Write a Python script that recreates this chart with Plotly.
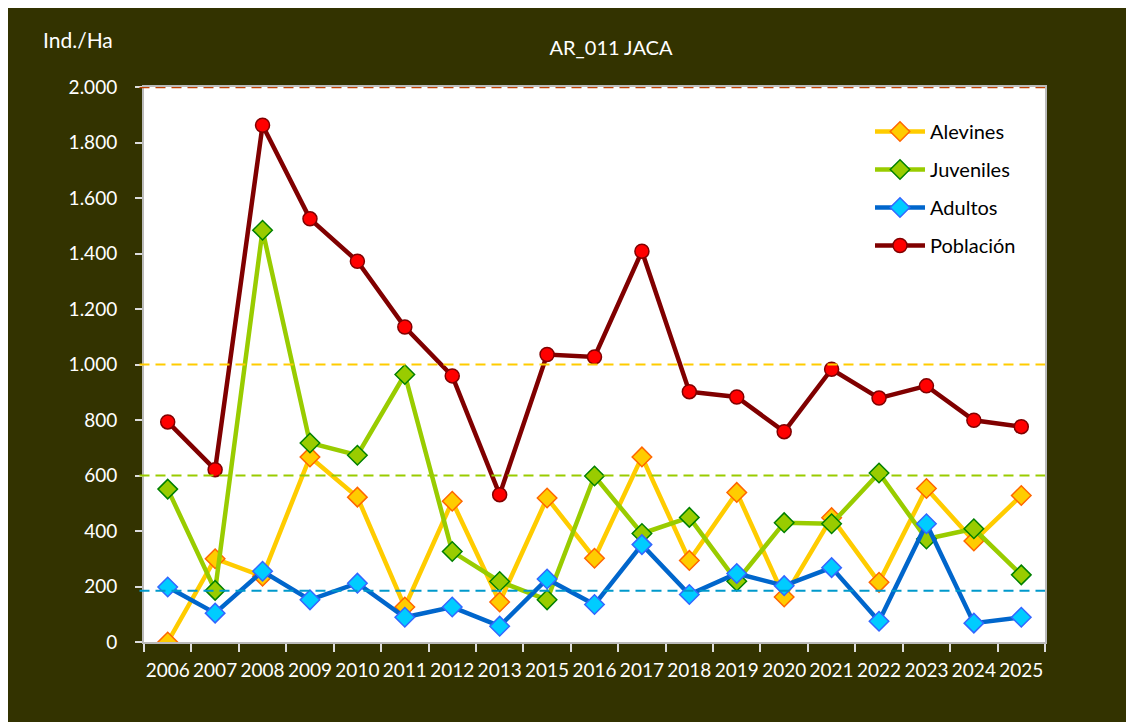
import plotly.graph_objects as go

years = ["2006", "2007", "2008", "2009", "2010", "2011", "2012", "2013", "2015", "2016",
         "2017", "2018", "2019", "2020", "2021", "2022", "2023", "2024", "2025"]
alevines = [0, 300, 237, 667, 522, 126, 507, 144, 519, 302, 667, 294, 539, 162, 448, 215, 553, 364, 528]
juveniles = [551, 186, 1484, 717, 673, 964, 326, 218, 152, 598, 391, 449, 219, 430, 426, 609, 371, 408, 242]
adultos = [198, 104, 255, 152, 212, 89, 126, 57, 227, 135, 351, 171, 247, 203, 268, 75, 426, 68, 89]
poblacion = [793, 621, 1862, 1525, 1372, 1135, 959, 531, 1036, 1027, 1408, 902, 883, 758, 983, 879, 923, 799, 776]
ref_levels = [2000, 1000, 600, 185]
ref_colors = ["#C04000", "#FFCC00", "#99CC00", "#0099CC"]

W, H = 1134, 722
OFF = 8  # page body margin
L, R, T, B = 144 - OFF, 1045 - OFF, 87 - OFF, 642 - OFF
pw = R - L
ph = B - T
font = "Lato, 'Open Sans', sans-serif"

fig = go.Figure()
fig.add_trace(go.Scatter(x=years, y=alevines, name="Alevines", mode="lines+markers", legendgroup="a",
                         line=dict(color="#FFCC00", width=4.5),
                         marker=dict(symbol="diamond", size=15, color="#FFCC00",
                                     line=dict(color="#FF6600", width=1.5))))
fig.add_trace(go.Scatter(x=years, y=juveniles, name="Juveniles", mode="lines+markers", legendgroup="j",
                         line=dict(color="#99CC00", width=4.5),
                         marker=dict(symbol="diamond", size=15, color="#99CC00",
                                     line=dict(color="#008000", width=1.5))))
fig.add_trace(go.Scatter(x=years, y=adultos, name="Adultos", mode="lines+markers", legendgroup="d",
                         line=dict(color="#0066CC", width=4.5),
                         marker=dict(symbol="diamond", size=15, color="#00CCFF",
                                     line=dict(color="#3366FF", width=1.5))))
fig.add_trace(go.Scatter(x=years, y=poblacion, name="Población", mode="lines+markers", legendgroup="p",
                         line=dict(color="#800000", width=4.5),
                         marker=dict(symbol="circle", size=14, color="#FF0000",
                                     line=dict(color="#800000", width=1.5))))

for lv, c in zip(ref_levels, ref_colors):
    fig.add_shape(type="line", xref="paper", yref="y", x0=-0.005, x1=1.0, y0=lv, y1=lv,
                  line=dict(color=c, width=2.5 if lv == 2000 else 2, dash="10px,6px"), layer="above")

fig.update_layout(
    width=W, height=H,
    margin=dict(l=L, r=W - R, t=T, b=H - B, pad=0),
    paper_bgcolor="#333300",
    plot_bgcolor="white",
    font=dict(family=font, color="white", size=16),
    title=dict(text="AR_011 JACA", x=(611 - OFF) / W, xanchor="center", y=1 - (48 - OFF) / H,
               yanchor="middle", font=dict(size=20, color="white", family=font)),
    showlegend=True,
    legend=dict(x=(870 - OFF - L) / pw, y=1 - (112 - OFF - T) / ph, xanchor="left", yanchor="top",
                bgcolor="rgba(0,0,0,0)", font=dict(size=20, color="black", family=font),
                tracegroupgap=9, itemwidth=50),
    annotations=[dict(text="Ind./Ha", xref="paper", yref="paper", x=(78 - OFF - L) / pw,
                      y=1 + (T - (40 - OFF)) / ph, xanchor="center", yanchor="middle", showarrow=False,
                      font=dict(size=21, color="white", family=font))],
)
fig.update_xaxes(type="category", range=[-0.5, len(years) - 0.5], showgrid=False, showline=True,
                 linecolor="#BBBBBB", linewidth=2,
                 mirror=True, ticks="outside", tickson="boundaries", ticklen=8, tickcolor="#DDDDDD",
                 tickwidth=1.5,
                 tickfont=dict(size=19, color="white", family=font), tickangle=0,
                 ticklabelstandoff=10)
fig.update_yaxes(range=[0, 2000], tickvals=[0, 200, 400, 600, 800, 1000, 1200, 1400, 1600, 1800, 2000],
                 ticktext=["0", "200", "400", "600", "800", "1.000", "1.200", "1.400", "1.600", "1.800", "2.000"],
                 showgrid=False, showline=True, linecolor="#BBBBBB", linewidth=2, mirror=True,
                 ticks="outside", ticklen=7, tickcolor="#DDDDDD", tickwidth=1.5, zeroline=False,
                 ticklabelstandoff=14,
                 tickfont=dict(size=19, color="white", family=font))

fig.write_html("out.html")
